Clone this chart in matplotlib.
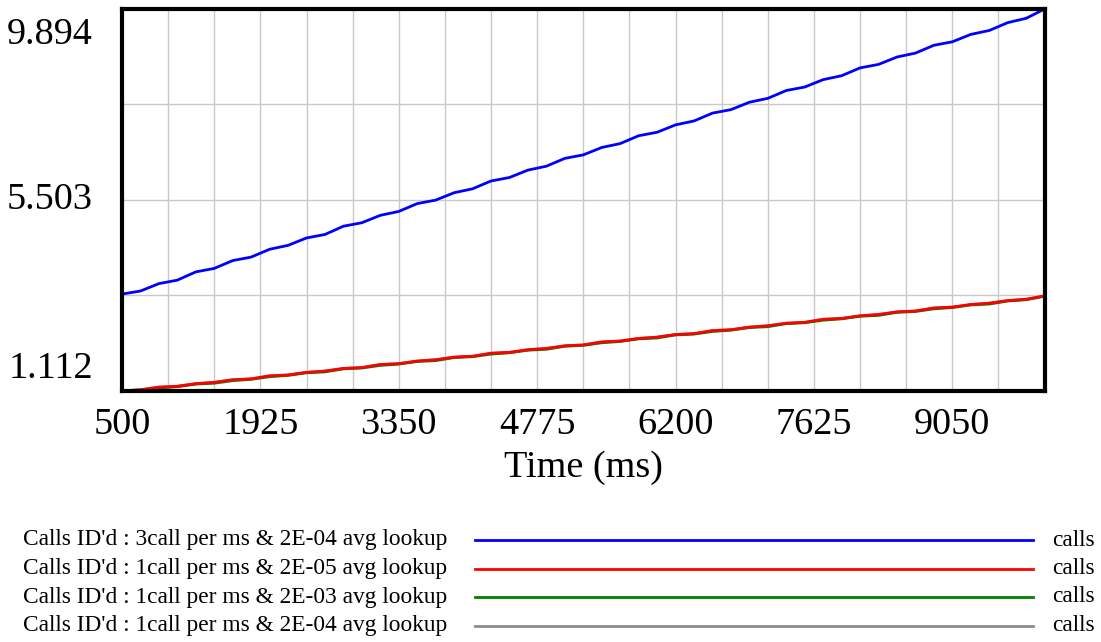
import numpy as np
import matplotlib.pyplot as plt
from matplotlib.lines import Line2D
from matplotlib.transforms import ScaledTranslation

plt.rcParams['font.family'] = ['Liberation Serif', 'DejaVu Serif']

# time axis (ms), one sample every 190 ms
time_ms = list(range(500, 10001, 190))

calls_3_2e04 = [3.34, 3.41, 3.58, 3.66, 3.85, 3.93, 4.11, 4.19, 4.37, 4.46,
                4.63, 4.71, 4.90, 4.98, 5.15, 5.24, 5.42, 5.50, 5.67, 5.76,
                5.94, 6.02, 6.19, 6.28, 6.46, 6.54, 6.71, 6.80, 6.98, 7.06,
                7.23, 7.32, 7.50, 7.58, 7.75, 7.84, 8.02, 8.10, 8.27, 8.36,
                8.54, 8.62, 8.79, 8.88, 9.06, 9.14, 9.31, 9.40, 9.58, 9.68,
                9.894]
calls_1_2e05 = [1.112, 1.14, 1.20, 1.22, 1.28, 1.31, 1.37, 1.39, 1.46, 1.48,
                1.54, 1.57, 1.63, 1.65, 1.72, 1.74, 1.80, 1.83, 1.89, 1.91,
                1.98, 2.00, 2.06, 2.09, 2.15, 2.17, 2.24, 2.26, 2.32, 2.35,
                2.41, 2.43, 2.50, 2.52, 2.58, 2.61, 2.67, 2.69, 2.76, 2.78,
                2.84, 2.87, 2.93, 2.95, 3.02, 3.04, 3.10, 3.13, 3.19, 3.22,
                3.298]
calls_1_2e03 = [1.10, 1.12, 1.18, 1.21, 1.27, 1.29, 1.35, 1.38, 1.44, 1.47,
                1.53, 1.55, 1.62, 1.64, 1.70, 1.73, 1.79, 1.81, 1.88, 1.90,
                1.96, 1.99, 2.05, 2.07, 2.14, 2.16, 2.22, 2.25, 2.31, 2.33,
                2.40, 2.42, 2.48, 2.51, 2.57, 2.59, 2.66, 2.68, 2.74, 2.77,
                2.83, 2.85, 2.92, 2.94, 3.00, 3.03, 3.09, 3.11, 3.18, 3.21,
                3.29]
calls_1_2e04 = calls_1_2e05

series_labels = ["Calls ID'd : 3call per ms & 2E-04 avg lookup",
                 "Calls ID'd : 1call per ms & 2E-05 avg lookup",
                 "Calls ID'd : 1call per ms & 2E-03 avg lookup",
                 "Calls ID'd : 1call per ms & 2E-04 avg lookup"]
series_units = ['calls', 'calls', 'calls', 'calls']
colors = ['#0000ff', '#ff0000', '#008000', '#8c8c8c']

y_ticks = [1.112, 5.503, 9.894]
y_labels = ['1.112', '5.503', '9.894']
x_labels = [500, 1925, 3350, 4775, 6200, 7625, 9050]

fig = plt.figure(figsize=(11.01, 6.42), dpi=100)
ax = fig.add_axes([0.1108, 0.391, 0.838, 0.595])

series = [calls_3_2e04, calls_1_2e05, calls_1_2e03, calls_1_2e04]
# draw bottom-most legend entry first so red/blue end up on top
for vals, c in reversed(list(zip(series, colors))):
    ax.plot(time_ms, vals, color=c, linewidth=2.0, solid_capstyle='round')

ax.set_xlim(500, 10000)
ax.set_ylim(1.112, 9.894)

ax.set_xticks(np.arange(500, 10001, 475), minor=True)
ax.set_xticks(x_labels)
ax.set_xticklabels([str(v) for v in x_labels], fontsize=27.5)
ax.set_yticks(np.linspace(1.112, 9.894, 5), minor=True)
ax.set_yticks(y_ticks)
ax.set_yticklabels([])
ax.tick_params(which='both', length=0)
ax.tick_params(axis='x', pad=12)
ax.grid(True, which='both', color='#c8c8c8', linewidth=1)
ax.set_axisbelow(True)
for s in ax.spines.values():
    s.set_linewidth(3)
    s.set_color('black')

# y labels: top one pushed down, bottom one pushed up (as in the original)
ytrans = ax.get_yaxis_transform()
offsets = [(-0.29, 0.05, 'bottom'), (-0.29, 0.0, 'center'), (-0.29, -0.09, 'top')]
for val, lab, (dx, dy, va) in zip(y_ticks, y_labels, offsets):
    ax.text(0, val, lab, ha='right', va=va, fontsize=27.5,
            transform=ytrans + ScaledTranslation(dx, dy, fig.dpi_scale_trans))

ax.set_xlabel('Time (ms)', fontsize=27.5, labelpad=6)

# legend rows below the chart
for i, (lab, unit, c) in enumerate(zip(series_labels, series_units, colors)):
    y = 1 - (540 + i * 28.5) / 642
    fig.text(447 / 1101, y, lab, ha='right', va='center', fontsize=16.8)
    fig.add_artist(Line2D([475 / 1101, 1033 / 1101], [y, y], color=c, linewidth=2.0))
    fig.text(1052 / 1101, y, unit, ha='left', va='center', fontsize=16.8)

fig.savefig('out.png', dpi=100)
